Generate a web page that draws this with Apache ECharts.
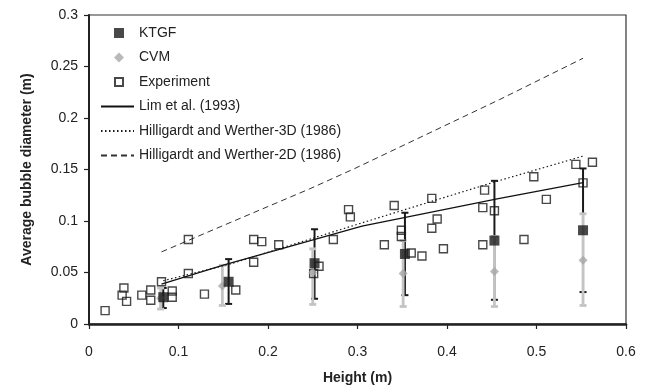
<!DOCTYPE html>
<html>
<head>
<meta charset="utf-8">
<script src="https://cdn.jsdelivr.net/npm/echarts@6/dist/echarts.min.js"></script>
<style>
  html, body { margin: 0; padding: 0; background: #fff; }
  #chart { width: 653px; height: 390px; }
</style>
</head>
<body>
<div id="chart"></div>
<script>
// Axis ticks
const xTicks = [0, 0.1, 0.2, 0.3, 0.4, 0.5, 0.6];
const yTicks = [0, 0.05, 0.1, 0.15, 0.2, 0.25, 0.3];

// KTGF simulation: mean bubble diameter with min/max range
const ktgfHeight = [0.083, 0.156, 0.252, 0.353, 0.453, 0.552];
const ktgfDiam   = [0.026, 0.041, 0.059, 0.068, 0.081, 0.091];
const ktgfLow    = [0.0155, 0.0195, 0.0245, 0.028, 0.0235, 0.031];
const ktgfHigh   = [0.035, 0.063, 0.092, 0.108, 0.139, 0.151];

// CVM simulation: mean bubble diameter with min/max range
const cvmHeight = [0.080, 0.149, 0.250, 0.351, 0.453, 0.552];
const cvmDiam   = [0.025, 0.037, 0.050, 0.049, 0.051, 0.062];
const cvmLow    = [0.0145, 0.018, 0.019, 0.017, 0.017, 0.018];
const cvmHigh   = [0.035, 0.057, 0.073, 0.081, 0.085, 0.107];

// Experimental measurements
const expHeight = [0.018, 0.039, 0.037, 0.042, 0.059, 0.069, 0.069, 0.081, 0.093, 0.093,
                   0.111, 0.111, 0.129, 0.164, 0.184, 0.193, 0.184, 0.212, 0.251, 0.257,
                   0.273, 0.290, 0.292, 0.330, 0.341, 0.349, 0.349, 0.360, 0.372, 0.383,
                   0.389, 0.383, 0.396, 0.440, 0.440, 0.442, 0.453, 0.486, 0.497, 0.511,
                   0.544, 0.5625, 0.552];
const expDiam   = [0.013, 0.035, 0.028, 0.022, 0.028, 0.033, 0.023, 0.041, 0.032, 0.026,
                   0.049, 0.082, 0.029, 0.033, 0.082, 0.080, 0.060, 0.077, 0.049, 0.056,
                   0.082, 0.111, 0.104, 0.077, 0.115, 0.091, 0.085, 0.069, 0.066, 0.122,
                   0.102, 0.093, 0.073, 0.077, 0.113, 0.130, 0.110, 0.082, 0.143, 0.121,
                   0.155, 0.157, 0.137];

// Correlations
const limHeight = [0.081, 0.151, 0.305, 0.456, 0.552];
const limDiam   = [0.0386, 0.0575, 0.095, 0.1214, 0.1373];
const hw3Height = [0.083, 0.157, 0.308, 0.4535, 0.552];
const hw3Diam   = [0.042, 0.058, 0.099, 0.138, 0.163];
const hw2Height = [0.081, 0.151, 0.246, 0.297, 0.459, 0.552];
const hw2Diam   = [0.070, 0.096, 0.131, 0.151, 0.218, 0.258];

const FONT = 'Liberation Sans, Arial, sans-serif';
const zip = (a, b) => a.map((v, i) => [v, b[i]]);
const tickFmt = v => String(+v.toFixed(2));

// Legend glyphs sized inside a 33x10 item box (the leading moves fix the box)
const ICON_SQUARE  = 'path://M0,0M33,10M13,0H23V10H13Z';
const ICON_DIAMOND = 'path://M0,0M33,10M18,0L23,5L18,10L13,5Z';
const ICON_HOLLOW  = 'path://M0,0M33,10M14,1H22V9H14Z';

function errorBars(xs, lows, highs, color, width, cap, z) {
  return {
    type: 'custom',
    silent: true,
    z: z,
    data: xs.map((x, i) => [x, lows[i], highs[i]]),
    encode: { x: 0, y: [1, 2] },
    renderItem: (params, api) => {
      const lo = api.coord([api.value(0), api.value(1)]);
      const hi = api.coord([api.value(0), api.value(2)]);
      const st = { stroke: color, lineWidth: width };
      return {
        type: 'group',
        children: [
          { type: 'line', shape: { x1: lo[0], y1: lo[1], x2: hi[0], y2: hi[1] }, style: st },
          { type: 'line', shape: { x1: lo[0] - cap / 2, y1: lo[1], x2: lo[0] + cap / 2, y2: lo[1] }, style: st },
          { type: 'line', shape: { x1: hi[0] - cap / 2, y1: hi[1], x2: hi[0] + cap / 2, y2: hi[1] }, style: st }
        ]
      };
    }
  };
}

function correlation(name, xs, ys, lineStyle) {
  return {
    name: name, type: 'line', z: 4,
    data: zip(xs, ys), symbol: 'none', symbolSize: 0,
    itemStyle: { color: 'rgba(0,0,0,0)', borderWidth: 0 },
    lineStyle: lineStyle
  };
}

const chart = echarts.init(document.getElementById('chart'), null, { renderer: 'canvas' });
chart.setOption({
  backgroundColor: '#fff',
  animation: false,
  textStyle: { fontFamily: FONT },
  grid: {
    left: 89, right: 27, top: 15, bottom: 63.5,
    show: true, borderColor: '#333', borderWidth: 1.2, backgroundColor: 'transparent'
  },
  legend: {
    orient: 'vertical',
    left: 100, top: 26, padding: 0,
    itemWidth: 33, itemHeight: 10, itemGap: 10.5,
    textStyle: { fontSize: 14, color: '#222', fontFamily: FONT },
    data: [
      { name: 'KTGF', icon: ICON_SQUARE },
      { name: 'CVM', icon: ICON_DIAMOND },
      { name: 'Experiment', icon: ICON_HOLLOW },
      { name: 'Lim et al. (1993)' },
      { name: 'Hilligardt and Werther-3D (1986)' },
      { name: 'Hilligardt and Werther-2D (1986)' }
    ]
  },
  xAxis: {
    type: 'value',
    min: xTicks[0], max: xTicks[xTicks.length - 1], interval: 0.1,
    name: 'Height (m)', nameLocation: 'middle', nameGap: 47,
    nameTextStyle: { fontSize: 14, fontWeight: 'bold', color: '#222', fontFamily: FONT },
    axisLine: { lineStyle: { color: '#222', width: 2.5 } },
    axisTick: { inside: false, length: 5, lineStyle: { color: '#222', width: 1.2 } },
    axisLabel: { fontSize: 14, color: '#222', margin: 21, formatter: tickFmt, fontFamily: FONT },
    splitLine: { show: false }
  },
  yAxis: {
    type: 'value',
    min: yTicks[0], max: yTicks[yTicks.length - 1], interval: 0.05,
    name: 'Average bubble diameter (m)', nameLocation: 'middle', nameGap: 55,
    nameTextStyle: { fontSize: 14, fontWeight: 'bold', color: '#222', fontFamily: FONT },
    axisLine: { lineStyle: { color: '#222', width: 2 } },
    axisTick: { inside: false, length: 5, lineStyle: { color: '#222', width: 1.2 } },
    axisLabel: { fontSize: 14, color: '#222', margin: 11, formatter: tickFmt, fontFamily: FONT },
    splitLine: { show: false }
  },
  series: [
    errorBars(ktgfHeight, ktgfLow, ktgfHigh, '#1a1a1a', 2, 7, 2),
    errorBars(cvmHeight, cvmLow, cvmHigh, '#c4c4c4', 2.8, 7, 3),
    correlation('Lim et al. (1993)', limHeight, limDiam,
      { color: '#111', width: 1.3, type: 'solid' }),
    correlation('Hilligardt and Werther-3D (1986)', hw3Height, hw3Diam,
      { color: '#1a1a1a', width: 1.2, type: [1.5, 2.5] }),
    correlation('Hilligardt and Werther-2D (1986)', hw2Height, hw2Diam,
      { color: '#333', width: 1, type: [6, 4] }),
    {
      name: 'Experiment', type: 'scatter', z: 5,
      data: zip(expHeight, expDiam), symbol: 'rect', symbolSize: 8,
      itemStyle: { color: 'rgba(255,255,255,0)', borderColor: '#1a1a1a', borderWidth: 1.4 }
    },
    {
      name: 'CVM', type: 'scatter', z: 6,
      data: zip(cvmHeight, cvmDiam), symbol: 'diamond', symbolSize: 9,
      itemStyle: { color: '#a8a8a8' }
    },
    {
      name: 'KTGF', type: 'scatter', z: 7,
      data: zip(ktgfHeight, ktgfDiam), symbol: 'rect', symbolSize: 10,
      itemStyle: { color: '#1a1a1a' }
    }
  ]
});
</script>
</body>
</html>
